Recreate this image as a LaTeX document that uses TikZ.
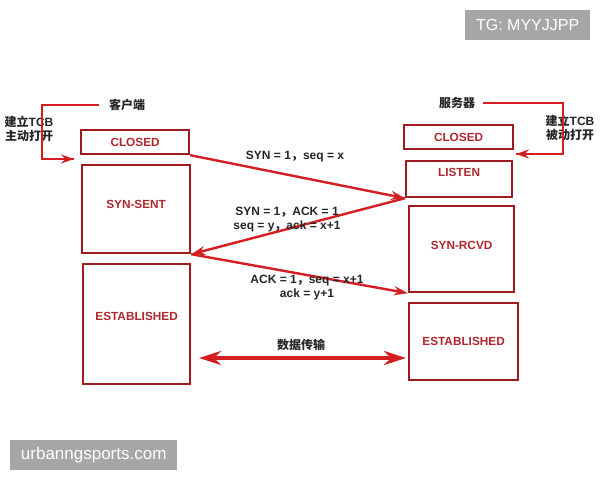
\documentclass[tikz,border=0pt]{standalone}
\usepackage{fontspec}
\setmainfont{Liberation Sans}
\newfontfamily\cjk{Noto Sans CJK SC}
\usetikzlibrary{arrows.meta}
\definecolor{boxred}{HTML}{9E1A1F}
\definecolor{txtred}{HTML}{B0282E}
\definecolor{arrred}{HTML}{D41E22}
\definecolor{wmgray}{HTML}{A6A6A6}
\begin{document}
\begin{tikzpicture}[x=1pt,y=-1pt,
  statebox/.style={draw=boxred, line width=2.2pt, anchor=north west, inner sep=0pt},
  statetxt/.style={text=txtred, font=\bfseries\fontsize{11.8}{13}\selectfont, inner sep=0pt},
  msg/.style={draw=arrred, line width=2.4pt, -{Stealth[length=14pt,width=9pt]}},
  msgtxt/.style={text=black!85, font=\bfseries\fontsize{12}{14}\selectfont, align=center, inner sep=0pt},
  bracket/.style={draw=arrred, line width=1.8pt},
  side/.style={text=black!85, font=\bfseries\fontsize{12}{14}\selectfont, align=center, inner sep=0pt},
  wm/.style={fill=wmgray, text=white, inner sep=0pt, anchor=north west}
]
\useasboundingbox (0,0) rectangle (600,480);
\fill[white] (0,0) rectangle (600,480);

% watermarks
\node[wm, minimum width=125pt, minimum height=30pt] (wm1) at (465,10) {\fontsize{16}{18}\selectfont TG: MYYJJPP};
\node[wm, minimum width=167pt, minimum height=30pt] (wm2) at (10,440) {\fontsize{17}{19}\selectfont urbanngsports.com};

% left states
\node[statebox, minimum width=108pt, minimum height=24pt] (lclosed) at (80,129) {};
\node[statebox, minimum width=108pt, minimum height=88pt] (lsent) at (81,164) {};
\node[statebox, minimum width=107pt, minimum height=120pt] (lest) at (82,263) {};
% right states
\node[statebox, minimum width=109pt, minimum height=24pt] (rclosed) at (403,124) {};
\node[statebox, minimum width=106pt, minimum height=36pt] (rlisten) at (405,160) {};
\node[statebox, minimum width=105pt, minimum height=86pt] (rrcvd) at (408,205) {};
\node[statebox, minimum width=109pt, minimum height=77pt] (rest) at (408,302) {};

\node[statetxt] (tlclosed) at (lclosed.center) {CLOSED};
\node[statetxt] (tlsent) at ([yshift=5pt]lsent.center) {SYN-SENT};
\node[statetxt] (tlest) at ([yshift=8pt]lest.center) {ESTABLISHED};
\node[statetxt] (trclosed) at (rclosed.center) {CLOSED};
\node[statetxt] (trlisten) at ([yshift=7pt]rlisten.center) {LISTEN};
\node[statetxt] (trrcvd) at ([yshift=4pt]rrcvd.center) {SYN-RCVD};
\node[statetxt] (trest) at (rest.center) {ESTABLISHED};

% messages
\draw[msg] (lclosed.south east) -- (rlisten.south west);
\draw[msg] (rlisten.south west) -- (lsent.south east);
\draw[msg] (lsent.south east) -- (rrcvd.south west);

\node[msgtxt] (m1) at (295,157) {SYN = 1{\cjk ，}seq = x};
\node[msgtxt] (m2) at (287,220) {SYN = 1{\cjk ，}ACK = 1\\seq = y{\cjk ，}ack = x+1};
\node[msgtxt] (m3) at (307,288) {ACK = 1{\cjk ，}seq = x+1\\ack = y+1};

% data transfer
\coordinate (d1) at (199,358);
\coordinate (d2) at (406,358);
\draw[draw=arrred, line width=3.8pt, {Stealth[length=22pt,width=14pt]}-{Stealth[length=22pt,width=14pt]}] (d1) -- (d2);
\node[side] (data) at (301,345) {\cjk 数据传输};

% client side
\node[side] (client) at (127,105) {\cjk 客户端};
\node[side] (lopen) at (29,129) {{\cjk 建立}TCB\\{\cjk 主动打开}};
\coordinate (lb1) at (42,159);
\coordinate (la) at (74,159);
\draw[bracket] ([xshift=-10pt]client.west) -| (lb1) -- (la);
\draw[draw=arrred, -{Stealth[length=13pt,width=9pt]}, line width=1.8pt] (lb1) -- (la);

% server side
\node[side] (server) at (457,103) {\cjk 服务器};
\node[side] (ropen) at (570,128) {{\cjk 建立}TCB\\{\cjk 被动打开}};
\coordinate (rb1) at (563,154);
\coordinate (ra) at (516,154);
\draw[bracket] ([xshift=8pt]server.east) -| (rb1) -- (ra);
\draw[draw=arrred, -{Stealth[length=13pt,width=9pt]}, line width=1.8pt] (rb1) -- (ra);
\end{tikzpicture}
\end{document}
